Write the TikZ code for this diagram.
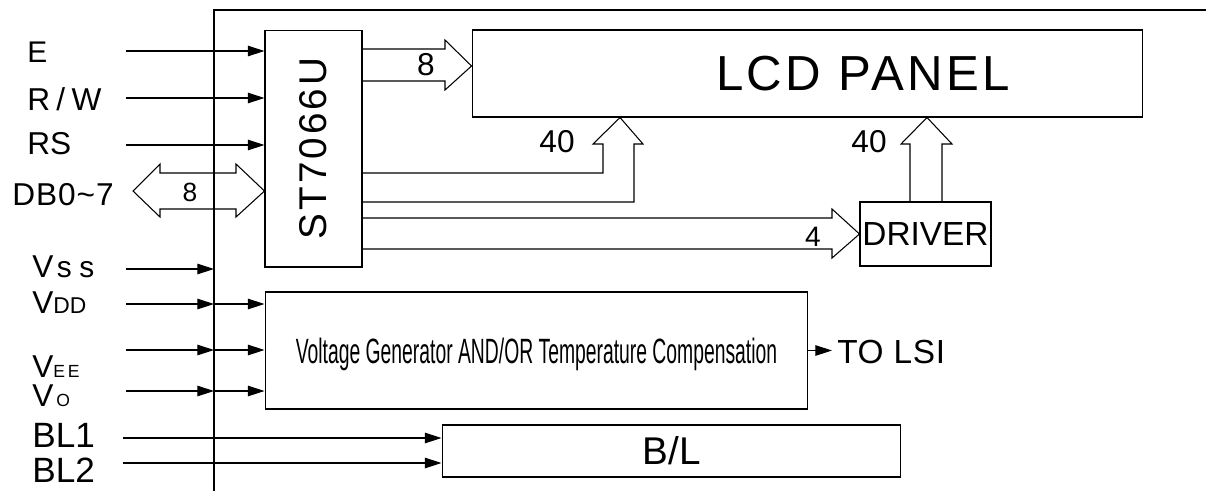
\documentclass[tikz,border=0pt]{standalone}
\usepackage{fontspec}
\setmainfont{Liberation Sans}
\newfontfamily\narrowfont[FakeStretch=0.55]{Liberation Sans}
\usepackage{tikz}
\usetikzlibrary{arrows.meta,positioning,calc}
\newcommand{\fsz}[1]{\fontsize{#1}{#1}\selectfont}
\newcommand{\spread}[2]{{\addfontfeature{LetterSpace=#1}#2}}
\tikzset{
  blk/.style={draw,line width=0.6pt,inner sep=0pt},
  sig/.style={line width=0.6pt,-{Triangle[length=9.5pt,width=6pt]}},
  bus/.style={line width=0.6pt,line join=miter},
  pin/.style={anchor=base west,inner sep=0pt,text depth=0pt,font=\fsz{18}},
  num/.style={inner sep=0pt},
}
\begin{document}
\begin{tikzpicture}[x=0.02cm,y=-0.02cm]
  \useasboundingbox (0,0) rectangle (1206,491);
  % module outline
  \coordinate (frb) at (214,491);
  \coordinate (frt) at (214,10);
  \coordinate (frr) at (1206,10);
  \draw[line width=0.6pt] (frb) -- (frt) -- (frr);

  % blocks
  \node[blk,minimum width=1.94cm,minimum height=4.74cm] (st) at (313.5,148.5)
    {\rotatebox{90}{\fsz{22}\spread{8}{ST7066U}}};
  \node[blk,minimum width=13.42cm,minimum height=1.74cm,font=\fsz{28}] (lcd) at (807.5,73.5)
    {\hspace*{2.22cm}\spread{7}{LCD PANEL}};
  \node[blk,minimum width=2.62cm,minimum height=1.28cm,font=\fsz{19}] (drv) at (925.5,234) {DRIVER};
  \node[blk,minimum width=10.86cm,minimum height=2.34cm,text depth=0pt,font=\fsz{20}] (vg) at (536.5,350.5)
    {\narrowfont Voltage Generator AND/OR Temperature Compensation};
  \node[blk,minimum width=9.18cm,minimum height=1.04cm,font=\fsz{22}] (bl) at (671.5,451) {B/L};
  \node[anchor=base west,inner xsep=2.8pt,inner ysep=0pt,font=\fsz{19}] (lsi) at (832,363) {\spread{2}{TO LSI}};

  % pin names
  \node[pin,font=\fsz{17}] (lE) at (27,62) {E};
  \node[pin] (lRW) at (27,110) {\spread{20}{R/W}};
  \node[pin] (lRS) at (27,154) {RS};
  \node[pin] (lDB) at (12,205) {\spread{3}{DB0\textasciitilde7}};
  \node[pin] (lVss) at (32,277) {V\kern2pt{\fsz{17}\spread{25}{ss}}};
  \node[pin] (lVdd) at (32,313) {V{\fsz{13}DD}};
  \node[pin] (lVee) at (32,377) {V{\fsz{10}\spread{15}{EE}}};
  \node[pin] (lVo) at (32,406) {V{\fsz{10}\,O}};
  \node[pin,font=\fsz{20}] (lBl1) at (32,447) {BL1};
  \node[pin,font=\fsz{20}] (lBl2) at (32,482) {BL2};

  % signal inputs
  \coordinate (inE) at (126,51);
  \coordinate (inRW) at (126,98);
  \coordinate (inRS) at (126,145);
  \coordinate (inVss) at (126,269);
  \coordinate (inVdd) at (126,304);
  \coordinate (inVee) at (126,350);
  \coordinate (inVo) at (126,391);
  \coordinate (inBl1) at (123,438);
  \coordinate (inBl2) at (123,463);
  \draw[sig] (inE) -- (inE -| st.west);
  \draw[sig] (inRW) -- (inRW -| st.west);
  \draw[sig] (inRS) -- (inRS -| st.west);
  \draw[sig] (inVss) -- (inVss -| frt);
  \draw[sig] (inVdd) -- (inVdd -| frt);
  \draw[sig] (inVdd -| frt) -- (inVdd -| vg.west);
  \draw[sig] (inVee) -- (inVee -| frt);
  \draw[sig] (inVee -| frt) -- (inVee -| vg.west);
  \draw[sig] (inVo) -- (inVo -| frt);
  \draw[sig] (inVo -| frt) -- (inVo -| vg.west);
  \draw[sig] (inBl1) -- (inBl1 -| bl.west);
  \draw[sig] (inBl2) -- (inBl2 -| bl.west);
  \draw[sig] (vg.east) -- (vg.east -| lsi.west);

  % buses
  \draw[bus] (133,191) -- (160,164) -- (160,173) -- (236,173) -- (236,164) -- (st.west |- 0,191)
    -- (236,217) -- (236,209) -- (160,209) -- (160,217) -- cycle;
  \node[num,font=\fsz{15}] (nDB) at (190,192) {8};
  \draw[bus] (st.east |- 0,49) -- (445,49) -- (445,40) -- (lcd.west |- 0,66)
    -- (445,90) -- (445,81) -- (st.east |- 0,81);
  \node[num,font=\fsz{18}] (nLcd) at (426,65) {8};
  \draw[bus] (st.east |- 0,173) -- (603,173) -- (603,144) -- (593,144) -- (lcd.south -| 620,0)
    -- (643,144) -- (634,144) -- (634,202) -- (st.east |- 0,202);
  \node[num,font=\fsz{18}] (nCom) at (557,142) {40};
  \draw[bus] (st.east |- 0,218) -- (832,218) -- (832,209) -- (drv.west)
    -- (832,258) -- (832,249) -- (st.east |- 0,249);
  \node[num,font=\fsz{16}] (nDrvIn) at (813,237) {4};
  \draw[bus] (drv.north -| 910,0) -- (910,144) -- (901,144) -- (lcd.south -| 927,0)
    -- (952,144) -- (942,144) -- (drv.north -| 942,0);
  \node[num,font=\fsz{18}] (nSeg) at (869,142) {40};
\end{tikzpicture}
\end{document}
